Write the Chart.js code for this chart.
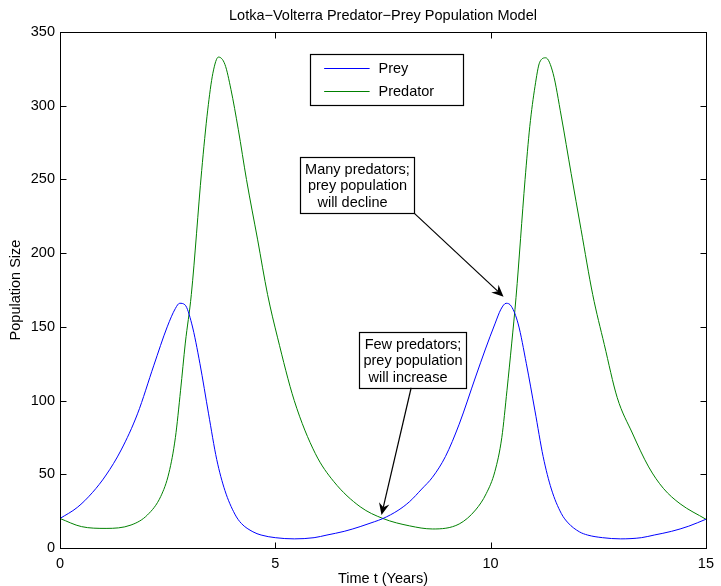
<!DOCTYPE html>
<html>
<head>
<meta charset="utf-8">
<script src="https://cdn.jsdelivr.net/npm/chart.js@4.4.1/dist/chart.umd.min.js"></script>
<style>
  html, body { margin: 0; padding: 0; background: #fff; }
  #wrap { width: 721px; height: 586px; }
</style>
</head>
<body>
<div id="wrap"><canvas id="lvChart"></canvas></div>
<script>
// values (time in years, population)
const preyT = [0, 0.4, 0.75, 1.07, 1.42, 1.8, 2.18, 2.49, 2.68, 2.78, 2.9, 3.06, 3.25, 3.45, 3.64, 3.83, 4.06, 4.21, 4.48, 4.67, 5.0, 5.44, 5.9, 6.2, 6.6, 6.97, 7.3, 7.5, 7.85, 8.12, 8.4, 8.65, 8.95, 9.27, 9.65, 9.88, 10.1, 10.24, 10.36, 10.48, 10.64, 10.83, 11.03, 11.22, 11.41, 11.64, 11.8, 12.06, 12.25, 12.6, 13.02, 13.5, 13.8, 14.2, 14.6, 15];
const prey = [20, 27.5, 37.5, 49.5, 66.5, 91, 124, 150, 162.5, 166, 165, 152, 125, 91, 60, 39, 23, 16.7, 11, 8.8, 7, 6.2, 7, 8.8, 11.3, 14.5, 17.8, 20, 25.5, 31.5, 40, 48, 62, 84, 116, 135, 152, 162, 166, 164, 152, 125, 93, 62, 40, 23.5, 17, 11, 8.8, 7, 6.2, 7, 8.8, 11.3, 14.8, 19.5];

const predT = [0, 0.5, 1.07, 1.65, 2.03, 2.34, 2.53, 2.68, 2.8, 2.91, 3.05, 3.29, 3.43, 3.55, 3.68, 3.83, 3.97, 4.14, 4.33, 4.59, 4.82, 5.05, 5.44, 5.93, 6.36, 6.97, 7.5, 8.12, 8.65, 9.27, 9.65, 9.9, 10.1, 10.26, 10.38, 10.49, 10.59, 10.8, 10.91, 11.03, 11.14, 11.28, 11.45, 11.64, 11.87, 12.1, 12.37, 12.64, 12.94, 13.29, 13.67, 14.01, 14.4, 15];
const predator = [20, 14.5, 13.3, 15.6, 22.4, 35, 51, 75, 107, 139, 172, 256, 297, 322, 333, 328, 311, 284, 250, 209, 172, 143, 100, 64, 45, 28, 20, 15, 12.9, 16.3, 25.8, 37, 52, 75, 107, 139, 170, 250, 286, 313, 329.5, 332.5, 322, 293, 254, 216, 172, 138, 102, 78, 55, 40.5, 30, 19.5];

const xTicks = [0, 5, 10, 15];
const yTicks = [0, 50, 100, 150, 200, 250, 300, 350];

const FONT = 'Liberation Sans, Arial, Helvetica, sans-serif';

function pairs(xs, ys) {
  return xs.map((x, i) => ({ x: x, y: ys[i] }));
}

// notes drawn in data coordinates
const notes = [
  { lines: ['Many predators;', 'prey population', 'will decline'],
    box: [5.58, 265.5, 8.23, 227], tail: [8.23, 227], tip: [10.3, 170.5] },
  { lines: ['Few predators;', 'prey population', 'will increase'],
    box: [6.95, 146.7, 9.42, 108.7], tail: [8.155, 108.7], tip: [7.466, 22.4] }
];

function arrow(ctx, x1, y1, x2, y2) {
  const a = Math.atan2(y2 - y1, x2 - x1);
  const len = 13, back = 8, spread = 0.42;
  ctx.beginPath();
  ctx.moveTo(x1, y1);
  ctx.lineTo(x2 - Math.cos(a) * back, y2 - Math.sin(a) * back);
  ctx.stroke();
  ctx.beginPath();
  ctx.moveTo(x2, y2);
  ctx.lineTo(x2 - len * Math.cos(a - spread), y2 - len * Math.sin(a - spread));
  ctx.lineTo(x2 - back * Math.cos(a), y2 - back * Math.sin(a));
  ctx.lineTo(x2 - len * Math.cos(a + spread), y2 - len * Math.sin(a + spread));
  ctx.closePath();
  ctx.fill();
}

const matlabBox = {
  id: 'matlabBox',
  afterDraw(chart) {
    const { ctx, chartArea: ca, scales } = chart;
    const xs = scales.x, ys = scales.y;
    const L = Math.round(ca.left) + 0.5, R = Math.round(ca.right) + 0.5;
    const T = Math.round(ca.top) + 0.5, B = Math.round(ca.bottom) + 0.5;
    ctx.save();
    ctx.strokeStyle = '#000';
    ctx.lineWidth = 1;
    ctx.strokeRect(L, T, R - L, B - T);
    ctx.beginPath();
    xTicks.forEach(v => {
      const px = Math.round(xs.getPixelForValue(v)) + 0.5;
      ctx.moveTo(px, B); ctx.lineTo(px, B - 6);
      ctx.moveTo(px, T); ctx.lineTo(px, T + 6);
    });
    yTicks.forEach(v => {
      const py = Math.round(ys.getPixelForValue(v)) + 0.5;
      ctx.moveTo(L, py); ctx.lineTo(L + 6, py);
      ctx.moveTo(R, py); ctx.lineTo(R - 6, py);
    });
    ctx.stroke();

    // legend
    const lx1 = Math.round(xs.getPixelForValue(5.812)) + 0.5;
    const lx2 = Math.round(xs.getPixelForValue(9.35)) + 0.5;
    const ly1 = Math.round(ys.getPixelForValue(335.1)) + 0.5;
    const ly2 = Math.round(ys.getPixelForValue(300.5)) + 0.5;
    ctx.fillStyle = '#fff';
    ctx.fillRect(lx1, ly1, lx2 - lx1, ly2 - ly1);
    ctx.strokeStyle = '#000';
    ctx.lineWidth = 1.2;
    ctx.strokeRect(lx1, ly1, lx2 - lx1, ly2 - ly1);
    ctx.font = '14.5px ' + FONT;
    ctx.textBaseline = 'middle';
    ctx.textAlign = 'left';
    [[325.6, 0], [310, 1]].forEach(([v, i]) => {
      const ds = chart.data.datasets[i];
      const py = Math.round(ys.getPixelForValue(v)) + 0.5;
      ctx.strokeStyle = ds.borderColor;
      ctx.lineWidth = 1;
      ctx.beginPath();
      ctx.moveTo(xs.getPixelForValue(6.134), py);
      ctx.lineTo(xs.getPixelForValue(7.19), py);
      ctx.stroke();
      ctx.fillStyle = '#000';
      ctx.fillText(ds.label, xs.getPixelForValue(7.397), py + 0.5);
    });

    // text notes with arrows
    notes.forEach(n => {
      const bx1 = Math.round(xs.getPixelForValue(n.box[0])) + 0.5;
      const by1 = Math.round(ys.getPixelForValue(n.box[1])) + 0.5;
      const bx2 = Math.round(xs.getPixelForValue(n.box[2])) + 0.5;
      const by2 = Math.round(ys.getPixelForValue(n.box[3])) + 0.5;
      ctx.fillStyle = '#fff';
      ctx.fillRect(bx1, by1, bx2 - bx1, by2 - by1);
      ctx.strokeStyle = '#000';
      ctx.lineWidth = 1.2;
      ctx.strokeRect(bx1, by1, bx2 - bx1, by2 - by1);
      ctx.fillStyle = '#000';
      ctx.textAlign = 'center';
      const cx = (bx1 + bx2) / 2;
      n.lines.forEach((t, i) => {
        ctx.fillText(t, cx - (i === 2 ? 5 : 0), by1 + 12.5 + i * 16.3);
      });
      ctx.lineWidth = 1.2;
      arrow(ctx, xs.getPixelForValue(n.tail[0]), ys.getPixelForValue(n.tail[1]),
            xs.getPixelForValue(n.tip[0]), ys.getPixelForValue(n.tip[1]));
    });
    ctx.restore();
  }
};

const ctx = document.getElementById('lvChart').getContext('2d');

new Chart(ctx, {
  type: 'line',
  data: {
    datasets: [
      {
        label: 'Prey',
        data: pairs(preyT, prey),
        borderColor: '#0000ff',
        borderWidth: 1,
        pointRadius: 0,
        fill: false,
        cubicInterpolationMode: 'monotone'
      },
      {
        label: 'Predator',
        data: pairs(predT, predator),
        borderColor: '#008000',
        borderWidth: 1,
        pointRadius: 0,
        fill: false,
        cubicInterpolationMode: 'monotone'
      }
    ]
  },
  options: {
    responsive: true,
    maintainAspectRatio: false,
    animation: false,
    events: [],
    layout: { padding: 0 },
    plugins: {
      legend: { display: false },
      tooltip: { enabled: false },
      title: {
        display: true,
        fullSize: false,
        text: 'Lotka\u2212Volterra Predator\u2212Prey Population Model',
        color: '#000',
        font: { family: FONT, size: 14.5, weight: 'normal', lineHeight: 1.2 },
        padding: { top: 7, bottom: 7.6 }
      }
    },
    scales: {
      x: {
        type: 'linear',
        min: 0,
        max: 15,
        afterBuildTicks: s => { s.ticks = xTicks.map(v => ({ value: v })); },
        afterFit: s => { s.height = 38; },
        grid: { display: false, drawTicks: false },
        border: { display: false },
        ticks: { color: '#000', padding: 7, maxRotation: 0, font: { family: FONT, size: 14.5 } },
        title: {
          display: true,
          text: 'Time t (Years)',
          color: '#000',
          font: { family: FONT, size: 14.5, lineHeight: 1 },
          padding: { top: 0, bottom: 0 }
        }
      },
      y: {
        min: 0,
        max: 350,
        afterBuildTicks: s => { s.ticks = yTicks.map(v => ({ value: v })); },
        afterFit: s => { s.width = 60; },
        grid: { display: false, drawTicks: false },
        border: { display: false },
        ticks: { color: '#000', padding: 5, font: { family: FONT, size: 14.5 } },
        title: {
          display: true,
          text: 'Population Size',
          color: '#000',
          font: { family: FONT, size: 14.5, lineHeight: 1.2 },
          padding: { top: 7, bottom: 0 }
        }
      },
      yRight: {
        position: 'right',
        min: 0,
        max: 350,
        afterFit: s => { s.width = 8; },
        grid: { display: false, drawTicks: false },
        border: { display: false },
        ticks: { display: false }
      }
    }
  },
  plugins: [matlabBox]
});
</script>
</body>
</html>
